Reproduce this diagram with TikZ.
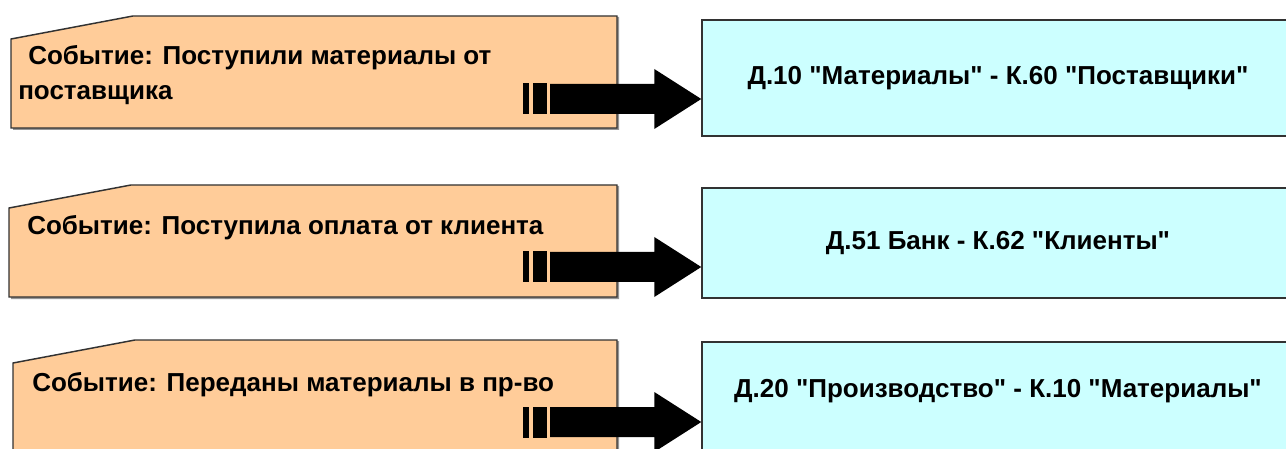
\documentclass[tikz,border=0pt]{standalone}
\usepackage{fontspec}
\setmainfont{Liberation Sans}[Ligatures=TeXOff]
\usetikzlibrary{calc}
\definecolor{evfill}{RGB}{255,204,153}
\definecolor{acfill}{RGB}{204,255,255}
\definecolor{bord}{RGB}{50,50,50}
\definecolor{shade}{RGB}{150,150,150}
\begin{document}
\begin{tikzpicture}[x=0.75pt,y=-0.75pt,
  txt/.style={inner sep=0pt,font=\bfseries\fontsize{19.5}{26}\selectfont},
  evtext/.style={txt,anchor=base west},
  evshape/.style={draw=bord,fill=evfill,line width=1.1pt},
  evshadow/.style={fill=shade},
  acbox/.style={draw=bord,fill=acfill,line width=1.1pt,minimum width=444pt,inner sep=0pt},
  fatarrow/.style={fill=black}]
\useasboundingbox (0,0) rectangle (1286,449);

% ---------- event shapes (slanted top-left corner)
\foreach \l/\t/\b in {11/16/128, 9/185/297, 13/340/470}{
  \fill[evshadow] (\l+2,\t+24) -- (\l+124,\t+1) -- (619,\t+1) -- (619,\b+2) -- (\l+2,\b+2) -- cycle;
  \draw[evshape] (\l,\t+23) -- (\l+122,\t) -- (617,\t) -- (617,\b) -- (\l,\b) -- cycle;
}

% ---------- account boxes
\fill[shade] (703,21) rectangle (1296,138);
\node[acbox,minimum height=87pt,txt] (c1) at (998,78) {Д.10 "Материалы" - К.60 "Поставщики"};
\fill[shade] (703,189) rectangle (1296,300);
\node[acbox,minimum height=82.5pt,txt] (c2) at (998,243) {Д.51 Банк - К.62 "Клиенты"};
\node[acbox,minimum height=90pt] (c3) at (998,402) {};
\node[txt] (c3t) at ($(c3.north)+(0,50)$) {Д.20 "Производство" - К.10 "Материалы"};

% ---------- event texts
\node[evtext] (e1a) at (28,65) {Событие: Поступили материалы от};
\node[evtext] (e1b) at (18,100) {поставщика};
\node[evtext] (e2) at (27,235) {Событие: Поступила оплата от клиента};
\node[evtext] (e3) at (32,391) {Событие: Переданы материалы в пр-во};

% ---------- arrows: tail coordinates inside the event shapes
\coordinate (t1) at (523,99);
\coordinate (t2) at (523,267);
\coordinate (t3) at (523,422);
\foreach \i in {1,2,3}{
  \coordinate (p\i) at (c\i.west |- t\i);
  \fill[fatarrow] ($(t\i)+(0,-15.5)$) rectangle ($(t\i)+(6,15.5)$);
  \fill[fatarrow] ($(t\i)+(10,-15.5)$) rectangle ($(t\i)+(24,15.5)$);
  \fill[fatarrow] ($(t\i)+(27,-15)$) -- ($(p\i)+(-47,-15)$) -- ($(p\i)+(-47,-30)$)
     -- (p\i) -- ($(p\i)+(-47,30)$) -- ($(p\i)+(-47,15)$) -- ($(t\i)+(27,15)$) -- cycle;
}
\end{tikzpicture}
\end{document}
